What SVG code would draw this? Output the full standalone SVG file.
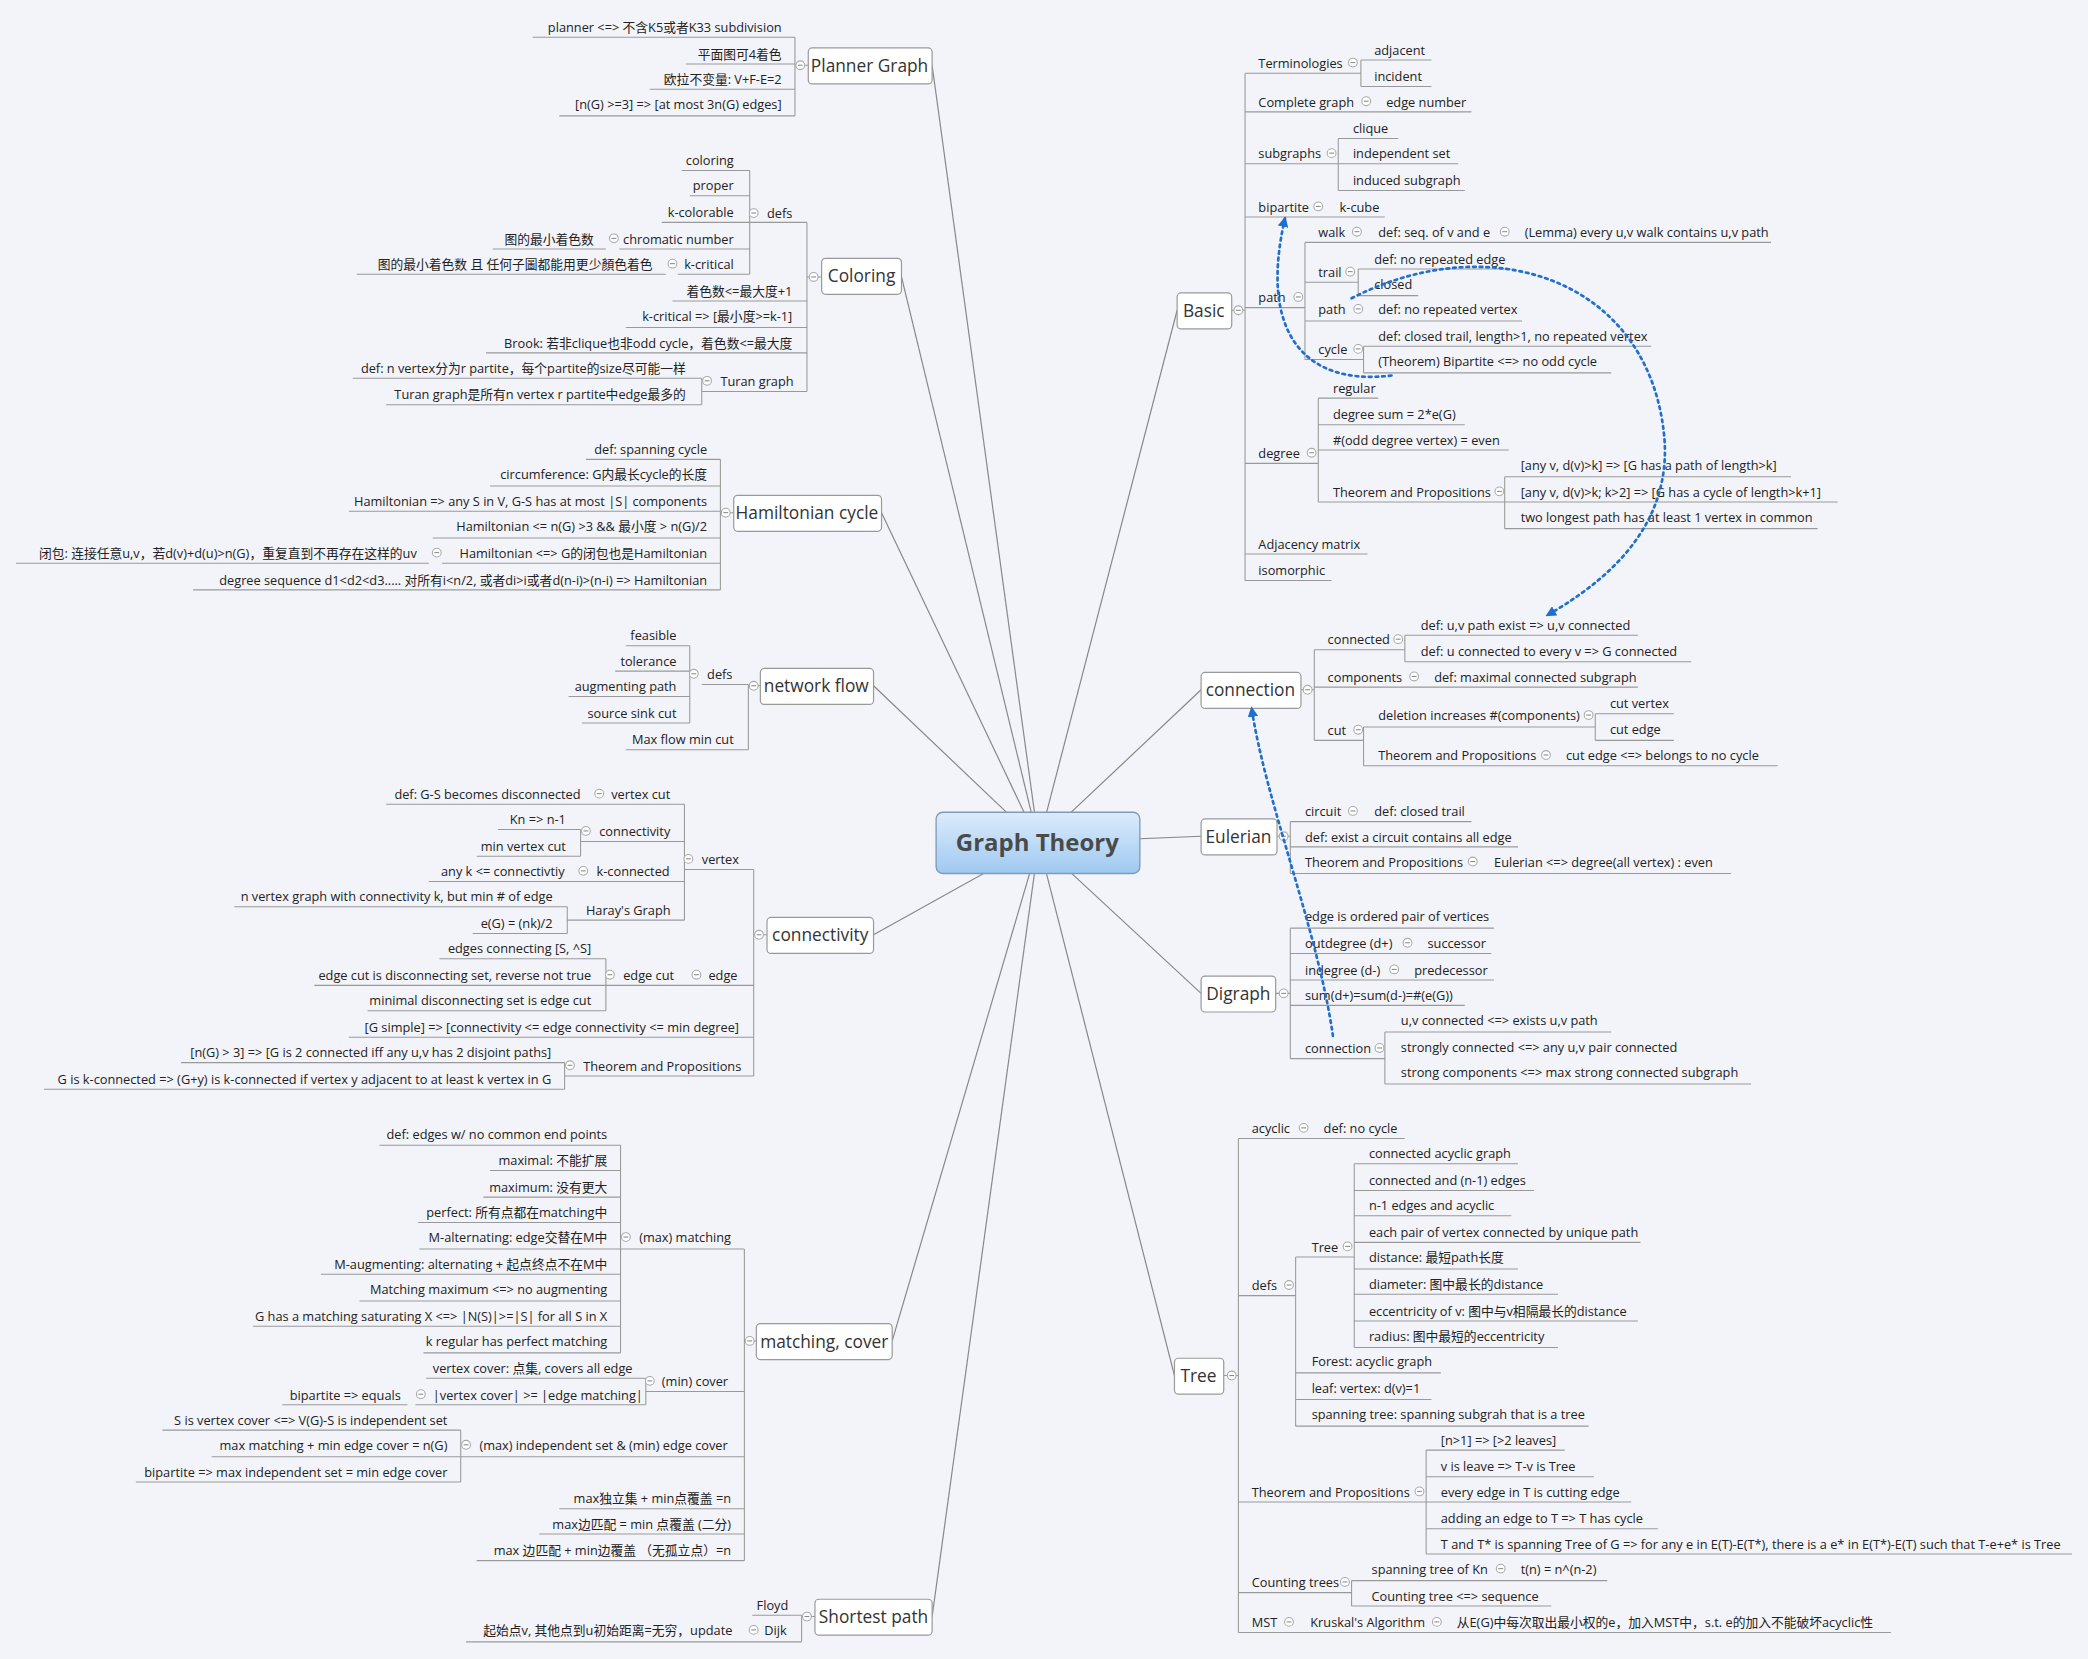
<svg xmlns="http://www.w3.org/2000/svg" xmlns:xlink="http://www.w3.org/1999/xlink" width="2088" height="1659" viewBox="0 0 2088 1659">
<style>
text{font-family:"Open Sans","Noto Sans CJK SC",sans-serif;font-size:9.6px;fill:#222}
.e{text-anchor:end}
.l{fill:none;stroke:#999;stroke-width:0.8}
.b{fill:#fff;stroke:#999;stroke-width:0.9}
.bt{font-size:13px;text-anchor:middle;fill:#333}
.cn{fill:none;stroke:#888;stroke-width:0.9}
.d{fill:none;stroke:#1f6fce;stroke-width:2;stroke-dasharray:2 3;stroke-linecap:round}
</style>
<defs>
<g id="m"><circle r="3.3" fill="#fff" stroke="#aaa" stroke-width="0.8"/><line x1="-1.8" x2="1.8" stroke="#888" stroke-width="0.8"/></g>
<marker id="ah" viewBox="0 0 10 10" refX="8" refY="5" markerWidth="4" markerHeight="4" orient="auto"><path d="M0 0L10 5L0 10z" fill="#1f6fce"/></marker>
<linearGradient id="cg" x1="0" y1="0" x2="0" y2="1"><stop offset="0" stop-color="#dcebfb"/><stop offset="1" stop-color="#9fc9f1"/></linearGradient>
</defs>
<rect width="2088" height="1659" fill="#f3f4f9"/>
<g transform="scale(1.3316)">
<g id="connectors">
<path class="cn" d="M780 633L700 49"/>
<path class="cn" d="M780 633L677 208"/>
<path class="cn" d="M780 633L662 385"/>
<path class="cn" d="M780 633L656 515"/>
<path class="cn" d="M780 633L656 702"/>
<path class="cn" d="M780 633L670 1007"/>
<path class="cn" d="M780 633L700 1214"/>
<path class="cn" d="M780 633L884 233"/>
<path class="cn" d="M780 633L902 518"/>
<path class="cn" d="M780 633L902 628"/>
<path class="cn" d="M780 633L902 746"/>
<path class="cn" d="M780 633L882 1033"/>
</g>
<g id="center"><rect x="703" y="610" width="153" height="46" rx="5" fill="url(#cg)" stroke="#7f9ab8"/><text x="779" y="639" style="font-size:18px;font-weight:bold;fill:#4a4a4a;text-anchor:middle">Graph Theory</text></g>

<g id="planner">
<path class="l" d="M400 28H597M515 48H597M488 67H597M420 87H597M597 28V87M597 49H607"/>
<text class="e" x="587" y="24">planner &lt;=&gt; 不含K5或者K33 subdivision</text>
<text class="e" x="587" y="44">平面图可4着色</text>
<text class="e" x="587" y="63">欧拉不变量: V+F-E=2</text>
<text class="e" x="587" y="82">[n(G) &gt;=3] =&gt; [at most 3n(G) edges]</text>
<use href="#m" x="601" y="49"/>
<rect class="b" x="607" y="36" width="93" height="27" rx="3"/><text class="bt" x="653" y="54">Planner Graph</text>
</g>

<g id="coloring">
<path class="l" d="M512 128H563M518 147H563M497 167H606M465 187H563M370 187H455M509 206H563M268 206H500M563 128V206M505 226H606M470 246H606M365 265H606M527 294H606M265 284H527M290 304H527M527 284V304M606 167V294M606 208H617"/>
<text class="e" x="551" y="124">coloring</text>
<text class="e" x="551" y="143">proper</text>
<text class="e" x="551" y="163">k-colorable</text>
<text x="576" y="164">defs</text><use href="#m" x="566" y="160"/>
<text class="e" x="551" y="183">chromatic number</text><use href="#m" x="461" y="179"/>
<text class="e" x="446" y="183">图的最小着色数</text>
<text class="e" x="551" y="202">k-critical</text><use href="#m" x="505" y="198"/>
<text class="e" x="490" y="202">图的最小着色数 且 任何子圖都能用更少顏色着色</text>
<text class="e" x="595" y="222">着色数&lt;=最大度+1</text>
<text class="e" x="595" y="241">k-critical =&gt; [最小度&gt;=k-1]</text>
<text class="e" x="595" y="261">Brook: 若非clique也非odd cycle，着色数&lt;=最大度</text>
<text x="541" y="290">Turan graph</text><use href="#m" x="531" y="286"/>
<text class="e" x="515" y="280">def: n vertex分为r partite，每个partite的size尽可能一样</text>
<text class="e" x="515" y="300">Turan graph是所有n vertex r partite中edge最多的</text>
<use href="#m" x="611" y="208"/>
<rect class="b" x="617" y="194" width="60" height="27" rx="3"/><text class="bt" x="647" y="212">Coloring</text>
</g>

<g id="hamiltonian">
<path class="l" d="M440 345H541M368 365H541M262 384H541M325 404H541M332 423H541M12 423H322M145 443H541M541 345V443M541 385H551"/>
<text class="e" x="531" y="341">def: spanning cycle</text>
<text class="e" x="531" y="360">circumference: G内最长cycle的长度</text>
<text class="e" x="531" y="380">Hamiltonian =&gt; any S in V, G-S has at most |S| components</text>
<text class="e" x="531" y="399">Hamiltonian &lt;= n(G) &gt;3 &amp;&amp; 最小度 &gt; n(G)/2</text>
<text class="e" x="531" y="419">Hamiltonian &lt;=&gt; G的闭包也是Hamiltonian</text><use href="#m" x="328" y="415"/>
<text class="e" x="313" y="419">闭包: 连接任意u,v，若d(v)+d(u)&gt;n(G)，重复直到不再存在这样的uv</text>
<text class="e" x="531" y="439">degree sequence d1&lt;d2&lt;d3..... 对所有i&lt;n/2, 或者di&gt;i或者d(n-i)&gt;(n-i) =&gt; Hamiltonian</text>
<use href="#m" x="545" y="385"/>
<rect class="b" x="551" y="372" width="111" height="27" rx="3"/><text class="bt" x="606" y="390">Hamiltonian cycle</text>
</g>

<g id="networkflow">
<path class="l" d="M527 514H562M470 485H518M462 504H518M427 523H518M437 543H518M518 485V543M470 563H562M562 514V563M562 515H571"/>
<text x="531" y="510">defs</text><use href="#m" x="521" y="506"/>
<text class="e" x="508" y="481">feasible</text>
<text class="e" x="508" y="500">tolerance</text>
<text class="e" x="508" y="519">augmenting path</text>
<text class="e" x="508" y="539">source sink cut</text>
<text class="e" x="551" y="559">Max flow min cut</text>
<use href="#m" x="566" y="515"/>
<rect class="b" x="571" y="502" width="85" height="27" rx="3"/><text class="bt" x="613" y="520">network flow</text>
</g>

<g id="connectivity">
<path class="l" d="M290 604H514M436 632H514M374 623H436M358 643H436M436 623V643M322 662H514M426 691H514M176 681H426M355 701H426M426 681V701M514 604V691M514 653H566M330 720H455M236 740H566M276 759H455M455 720V759M262 779H566M424 808H566M136 798H424M33 818H424M424 798V818M566 653V808M566 702H576"/>
<text x="527" y="649">vertex</text><use href="#m" x="517" y="645"/>
<text x="459" y="600">vertex cut</text><use href="#m" x="450" y="596"/>
<text class="e" x="436" y="600">def: G-S becomes disconnected</text>
<text x="450" y="628">connectivity</text><use href="#m" x="440" y="624"/>
<text class="e" x="425" y="619">Kn =&gt; n-1</text>
<text class="e" x="425" y="639">min vertex cut</text>
<text x="448" y="658">k-connected</text><use href="#m" x="438" y="654"/>
<text class="e" x="424" y="658">any k &lt;= connectivtiy</text>
<text x="440" y="687">Haray's Graph</text>
<text class="e" x="415" y="677">n vertex graph with connectivity k, but min # of edge</text>
<text class="e" x="415" y="697">e(G) = (nk)/2</text>
<text class="e" x="444" y="716">edges connecting [S, ^S]</text>
<text x="468" y="736">edge cut</text><use href="#m" x="458" y="732"/>
<text x="532" y="736">edge</text><use href="#m" x="523" y="732"/>
<text class="e" x="444" y="736">edge cut is disconnecting set, reverse not true</text>
<text class="e" x="444" y="755">minimal disconnecting set is edge cut</text>
<text class="e" x="555" y="775">[G simple] =&gt; [connectivity &lt;= edge connectivity &lt;= min degree]</text>
<text x="438" y="804">Theorem and Propositions</text><use href="#m" x="428" y="800"/>
<text class="e" x="414" y="794">[n(G) &gt; 3] =&gt; [G is 2 connected iff any u,v has 2 disjoint paths]</text>
<text class="e" x="414" y="814">G is k-connected =&gt; (G+y) is k-connected if vertex y adjacent to at least k vertex in G</text>
<use href="#m" x="570" y="702"/>
<rect class="b" x="576" y="689" width="80" height="27" rx="3"/><text class="bt" x="616" y="707">connectivity</text>
</g>

<g id="matching">
<path class="l" d="M285 860H466M368 879H466M363 899H466M314 918H466M315 938H559M241 957H466M270 977H466M190 996H466M318 1016H466M466 860V1016M320 1035H485M312 1055H485M212 1055H306M485 1035V1055M485 1045H559M122 1074H346M159 1094H559M102 1113H346M346 1074V1113M420 1133H559M405 1152H559M358 1172H559M559 938V1172M559 1007H568"/>
<text x="480" y="933">(max) matching</text><use href="#m" x="470" y="929"/>
<text class="e" x="456" y="855">def: edges w/ no common end points</text>
<text class="e" x="456" y="875">maximal: 不能扩展</text>
<text class="e" x="456" y="895">maximum: 没有更大</text>
<text class="e" x="456" y="914">perfect: 所有点都在matching中</text>
<text class="e" x="456" y="933">M-alternating: edge交替在M中</text>
<text class="e" x="456" y="953">M-augmenting: alternating + 起点终点不在M中</text>
<text class="e" x="456" y="972">Matching maximum &lt;=&gt; no augmenting</text>
<text class="e" x="456" y="992">G has a matching saturating X &lt;=&gt; |N(S)|&gt;=|S| for all S in X</text>
<text class="e" x="456" y="1011">k regular has perfect matching</text>
<text x="497" y="1041">(min) cover</text><use href="#m" x="488" y="1037"/>
<text class="e" x="475" y="1031">vertex cover: 点集, covers all edge</text>
<text x="325" y="1051">|vertex cover| &gt;= |edge matching|</text><use href="#m" x="316" y="1047"/>
<text class="e" x="301" y="1051">bipartite =&gt; equals</text>
<text x="360" y="1089">(max) independent set &amp; (min) edge cover</text><use href="#m" x="350" y="1085"/>
<text class="e" x="336" y="1070">S is vertex cover &lt;=&gt; V(G)-S is independent set</text>
<text class="e" x="336" y="1089">max matching + min edge cover = n(G)</text>
<text class="e" x="336" y="1109">bipartite =&gt; max independent set = min edge cover</text>
<text class="e" x="549" y="1129">max独立集 + min点覆盖 =n</text>
<text class="e" x="549" y="1148">max边匹配 = min 点覆盖 (二分)</text>
<text class="e" x="549" y="1168">max 边匹配 + min边覆盖 （无孤立点）=n</text>
<use href="#m" x="563" y="1007"/>
<rect class="b" x="568" y="994" width="102" height="27" rx="3"/><text class="bt" x="619" y="1012">matching, cover</text>
</g>

<g id="shortest">
<path class="l" d="M565 1213H602M350 1233H602M602 1213V1233M602 1214H612"/>
<text class="e" x="592" y="1209">Floyd</text>
<text x="574" y="1228">Dijk</text><use href="#m" x="566" y="1224"/>
<text class="e" x="550" y="1228">起始点v, 其他点到u初始距离=无穷，update</text>
<use href="#m" x="606" y="1214"/>
<rect class="b" x="612" y="1201" width="88" height="27" rx="3"/><text class="bt" x="656" y="1219">Shortest path</text>
</g>

<g id="basic">
<path class="l" d="M935 55H1022M1022 45H1075M1022 65H1075M1022 45V65M935 84H1105M935 123H1005M1005 104H1050M1005 123H1095M1005 143H1100M1005 104V143M935 163H1040M935 231H980M980 182H1330M1020 202H1135M1020 222H1065M1020 202V222M980 212H1020M980 241H1143M980 270H1024M1024 260H1240M1024 280H1210M1024 260V280M980 182V270M935 348H990M990 299H1035M990 319H1100M990 338H1133M990 377H1380M1130 358H1345M1130 397H1365M1130 358V397M990 299V377M935 416H1027M935 436H1000M935 55V436M925 233H935"/>
<text x="945" y="51">Terminologies</text><use href="#m" x="1016" y="47"/>
<text x="1032" y="41">adjacent</text><text x="1032" y="61">incident</text>
<text x="945" y="80">Complete graph</text><use href="#m" x="1026" y="76"/><text x="1041" y="80">edge number</text>
<text x="945" y="119">subgraphs</text><use href="#m" x="1000" y="115"/>
<text x="1016" y="100">clique</text><text x="1016" y="119">independent set</text><text x="1016" y="139">induced subgraph</text>
<text x="945" y="159">bipartite</text><use href="#m" x="990" y="155"/><text x="1006" y="159">k-cube</text>
<text x="945" y="227">path</text><use href="#m" x="975" y="223"/>
<text x="990" y="178">walk</text><use href="#m" x="1019" y="174"/>
<text x="1035" y="178">def: seq. of v and e</text><use href="#m" x="1130" y="174"/>
<text x="1145" y="178">(Lemma) every u,v walk contains u,v path</text>
<text x="990" y="208">trail</text><use href="#m" x="1014" y="204"/>
<text x="1032" y="198">def: no repeated edge</text><text x="1032" y="217">closed</text>
<text x="990" y="236">path</text><use href="#m" x="1020" y="232"/><text x="1035" y="236">def: no repeated vertex</text>
<text x="990" y="266">cycle</text><use href="#m" x="1020" y="262"/>
<text x="1035" y="256">def: closed trail, length&gt;1, no repeated vertex</text>
<text x="1035" y="275">(Theorem) Bipartite &lt;=&gt; no odd cycle</text>
<text x="945" y="344">degree</text><use href="#m" x="985" y="340"/>
<text x="1001" y="295">regular</text>
<text x="1001" y="315">degree sum = 2*e(G)</text>
<text x="1001" y="334">#(odd degree vertex) = even</text>
<text x="1001" y="373">Theorem and Propositions</text><use href="#m" x="1126" y="369"/>
<text x="1142" y="353">[any v, d(v)&gt;k] =&gt; [G has a path of length&gt;k]</text>
<text x="1142" y="373">[any v, d(v)&gt;k; k&gt;2] =&gt; [G has a cycle of length&gt;k+1]</text>
<text x="1142" y="392">two longest path has at least 1 vertex in common</text>
<text x="945" y="412">Adjacency matrix</text>
<text x="945" y="432">isomorphic</text>
<use href="#m" x="930" y="233"/>
<rect class="b" x="884" y="220" width="41" height="27" rx="3"/><text class="bt" x="904" y="238">Basic</text>
</g>

<g id="connection">
<path class="l" d="M987 488H1055M1055 477H1230M1055 497H1270M1055 477V497M987 516H1230M987 556H1024M1024 546H1198M1198 536H1257M1198 556H1257M1198 536V556M1024 575H1335M1024 546V575M987 488V556M977 518H987"/>
<text x="997" y="484">connected</text><use href="#m" x="1050" y="480"/>
<text x="1067" y="473">def: u,v path exist =&gt; u,v connected</text>
<text x="1067" y="493">def: u connected to every v =&gt; G connected</text>
<text x="997" y="512">components</text><use href="#m" x="1062" y="508"/><text x="1077" y="512">def: maximal connected subgraph</text>
<text x="997" y="552">cut</text><use href="#m" x="1020" y="548"/>
<text x="1035" y="541">deletion increases #(components)</text><use href="#m" x="1193" y="537"/>
<text x="1209" y="532">cut vertex</text><text x="1209" y="551">cut edge</text>
<text x="1035" y="571">Theorem and Propositions</text><use href="#m" x="1161" y="567"/>
<text x="1176" y="571">cut edge &lt;=&gt; belongs to no cycle</text>
<use href="#m" x="982" y="518"/>
<rect class="b" x="902" y="505" width="75" height="27" rx="3"/><text class="bt" x="939" y="523">connection</text>
</g>

<g id="eulerian">
<path class="l" d="M969 617H1105M969 636H1140M969 656H1300M969 617V656M959 628H969"/>
<text x="980" y="613">circuit</text><use href="#m" x="1016" y="609"/><text x="1032" y="613">def: closed trail</text>
<text x="980" y="632">def: exist a circuit contains all edge</text>
<text x="980" y="651">Theorem and Propositions</text><use href="#m" x="1106" y="647"/>
<text x="1122" y="651">Eulerian &lt;=&gt; degree(all vertex) : even</text>
<use href="#m" x="964" y="628"/>
<rect class="b" x="902" y="615" width="57" height="27" rx="3"/><text class="bt" x="930" y="633">Eulerian</text>
</g>

<g id="digraph">
<path class="l" d="M969 697H1122M969 716H1120M969 736H1122M969 755H1100M969 795H1040M1040 775H1210M1040 814H1315M1040 775V814M969 697V795M958 746H969"/>
<text x="980" y="692">edge is ordered pair of vertices</text>
<text x="980" y="712">outdegree (d+)</text><use href="#m" x="1057" y="708"/><text x="1072" y="712">successor</text>
<text x="980" y="732">indegree (d-)</text><use href="#m" x="1047" y="728"/><text x="1062" y="732">predecessor</text>
<text x="980" y="751">sum(d+)=sum(d-)=#(e(G))</text>
<text x="980" y="791">connection</text><use href="#m" x="1036" y="787"/>
<text x="1052" y="770">u,v connected &lt;=&gt; exists u,v path</text>
<text x="1052" y="790">strongly connected &lt;=&gt; any u,v pair connected</text>
<text x="1052" y="809">strong components &lt;=&gt; max strong connected subgraph</text>
<use href="#m" x="964" y="746"/>
<rect class="b" x="902" y="733" width="56" height="27" rx="3"/><text class="bt" x="930" y="751">Digraph</text>
</g>

<g id="tree">
<path class="l" d="M930 855H1055M930 973H973M973 944H1017M1017 874H1140M1017 894H1152M1017 913H1135M1017 933H1232M1017 953H1140M1017 972H1170M1017 992H1230M1017 1012H1170M1017 874V1012M973 1031H1082M973 1051H1075M973 1071H1193M973 944V1071M930 1128H1071M1071 1089H1175M1071 1109H1197M1071 1148H1245M1071 1167H1556M1071 1128H1225M1071 1089V1167M930 1196H1015M1015 1187H1207M1015 1206H1165M1015 1187V1206M930 1226H1420M930 855V1226M919 1033H930"/>
<text x="940" y="851">acyclic</text><use href="#m" x="979" y="847"/><text x="994" y="851">def: no cycle</text>
<text x="940" y="969">defs</text><use href="#m" x="968" y="965"/>
<text x="985" y="940">Tree</text><use href="#m" x="1012" y="936"/>
<text x="1028" y="870">connected acyclic graph</text>
<text x="1028" y="890">connected and (n-1) edges</text>
<text x="1028" y="909">n-1 edges and acyclic</text>
<text x="1028" y="929">each pair of vertex connected by unique path</text>
<text x="1028" y="948">distance: 最短path长度</text>
<text x="1028" y="968">diameter: 图中最长的distance</text>
<text x="1028" y="988">eccentricity of v: 图中与v相隔最长的distance</text>
<text x="1028" y="1007">radius: 图中最短的eccentricity</text>
<text x="985" y="1026">Forest: acyclic graph</text>
<text x="985" y="1046">leaf: vertex: d(v)=1</text>
<text x="985" y="1066">spanning tree: spanning subgrah that is a tree</text>
<text x="940" y="1124">Theorem and Propositions</text><use href="#m" x="1066" y="1120"/>
<text x="1082" y="1085">[n&gt;1] =&gt; [&gt;2 leaves]</text>
<text x="1082" y="1105">v is leave =&gt; T-v is Tree</text>
<text x="1082" y="1124">every edge in T is cutting edge</text>
<text x="1082" y="1144">adding an edge to T =&gt; T has cycle</text>
<text x="1082" y="1163">T and T* is spanning Tree of G =&gt; for any e in E(T)-E(T*), there is a e* in E(T*)-E(T) such that  T-e+e* is Tree</text>
<text x="940" y="1192">Counting trees</text><use href="#m" x="1010" y="1188"/>
<text x="1030" y="1182">spanning tree of Kn</text><use href="#m" x="1127" y="1178"/><text x="1142" y="1182">t(n) = n^(n-2)</text>
<text x="1030" y="1202">Counting tree &lt;=&gt; sequence</text>
<text x="940" y="1222">MST</text><use href="#m" x="968" y="1218"/>
<text x="984" y="1222">Kruskal's Algorithm</text><use href="#m" x="1079" y="1218"/>
<text x="1094" y="1222">从E(G)中每次取出最小权的e，加入MST中，s.t. e的加入不能破坏acyclic性</text>
<use href="#m" x="925" y="1033"/>
<rect class="b" x="882" y="1020" width="37" height="27" rx="3"/><text class="bt" x="900" y="1038">Tree</text>
</g>

<g id="relations">
<path class="d" marker-end="url(#ah)" d="M1015 224C1120 170 1240 210 1250 330C1255 400 1200 440 1162 462"/>
<path class="d" marker-end="url(#ah)" d="M1045 282C980 290 945 250 965 164"/>
<path class="d" marker-end="url(#ah)" d="M1001 778C990 700 950 600 940 532"/>
</g>
</g>
</svg>
